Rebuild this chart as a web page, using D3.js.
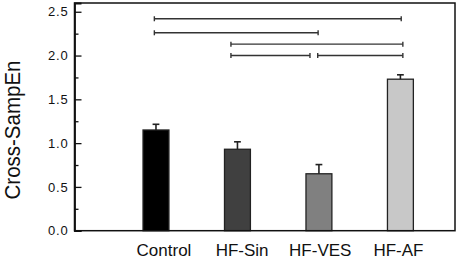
<!DOCTYPE html>
<html><head><meta charset="utf-8">
<script src="https://cdn.jsdelivr.net/npm/d3@7"></script>
<style>body{margin:0;background:#fff}svg{display:block}text{font-family:"Liberation Sans",Arial,sans-serif}</style>
</head><body>
<svg id="chart" width="459" height="259"></svg>
<script>
const categories = ["Control", "HF-Sin", "HF-VES", "HF-AF"];
const values = [1.15, 0.93, 0.65, 1.73];
const errors = [0.065, 0.085, 0.105, 0.05];
const barColors = ["#000000", "#404040", "#808080", "#c8c8c8"];
const yTicks = [0.0, 0.5, 1.0, 1.5, 2.0, 2.5];
const yMinorTicks = [0.25, 0.75, 1.25, 1.75, 2.25];
// significance brackets (x in category units, level in y units)
const bracketStart = [0.98, 0.98, 1.92, 1.92, 2.985];
const bracketEnd = [4.01, 2.99, 4.03, 2.89, 4.03];
const bracketLevel = [2.42, 2.26, 2.13, 2.0, 2.0];

const svg = d3.select("#chart");
const L = 74.5, R = 455, T = 3, B = 230.7;
const x = d3.scaleLinear().domain([0, 4.67]).range([L, R]);
const xl = d3.scaleLinear().domain([1, 4]).range([x(1) + 8, x(4) - 2]);
const y = d3.scaleLinear().domain([0, 2.6]).range([B, T]);
const bw = x(0.318) - x(0);

// bars
categories.forEach((c, i) => {
  const cx = x(i + 1);
  svg.append("rect")
    .attr("x", cx - bw / 2).attr("y", y(values[i]))
    .attr("width", bw).attr("height", y(0) - y(values[i]))
    .attr("fill", barColors[i]).attr("stroke", "#222").attr("stroke-width", 1.3);
  svg.append("line").attr("x1", cx).attr("x2", cx)
    .attr("y1", y(values[i])).attr("y2", y(values[i] + errors[i]))
    .attr("stroke", "#222").attr("stroke-width", 1.6);
  svg.append("line").attr("x1", cx - 3.4).attr("x2", cx + 3.4)
    .attr("y1", y(values[i] + errors[i])).attr("y2", y(values[i] + errors[i]))
    .attr("stroke", "#222").attr("stroke-width", 1.6);
  svg.append("text").attr("x", xl(i + 1)).attr("y", 256)
    .attr("text-anchor", "middle").attr("font-size", "17px").attr("fill", "#111")
    .text(c);
});

// brackets
bracketLevel.forEach((lv, i) => {
  const g = svg.append("g").attr("stroke", "#333").attr("stroke-width", 1.4);
  const yy = y(lv), x1 = x(bracketStart[i]), x2 = x(bracketEnd[i]);
  g.append("line").attr("x1", x1).attr("x2", x2).attr("y1", yy).attr("y2", yy);
  g.append("line").attr("x1", x1).attr("x2", x1).attr("y1", yy - 2.5).attr("y2", yy + 2.5);
  g.append("line").attr("x1", x2).attr("x2", x2).attr("y1", yy - 2.5).attr("y2", yy + 2.5);
});

// frame
svg.append("rect").attr("x", L).attr("y", T).attr("width", R - L).attr("height", B - T)
  .attr("fill", "none").attr("stroke", "#111").attr("stroke-width", 1.5);

// y axis
const ax = svg.append("g").attr("transform", `translate(${L},0)`)
  .call(d3.axisLeft(y).tickValues(yTicks).tickFormat(d3.format(".1f")).tickSize(-7).tickPadding(6));
ax.select(".domain").attr("stroke", "#111").attr("stroke-width", 1.8);
ax.selectAll(".tick line").attr("stroke", "#111").attr("stroke-width", 1.3);
ax.selectAll(".tick text").attr("font-size", "13px").attr("fill", "#111")
  .attr("letter-spacing", "0.8px")
  .attr("font-family", "'Liberation Sans',Arial,sans-serif");
const mx = svg.append("g").attr("transform", `translate(${L},0)`)
  .call(d3.axisLeft(y).tickValues(yMinorTicks).tickFormat("").tickSize(-4));
mx.select(".domain").remove();
mx.selectAll(".tick line").attr("stroke", "#111").attr("stroke-width", 1.3);

// y label
svg.append("text").attr("transform", "translate(20,130) rotate(-90) scale(1,1.12)")
  .attr("text-anchor", "middle").attr("font-size", "20.5px").attr("fill", "#111")
  .text("Cross-SampEn");
</script>
</body></html>
